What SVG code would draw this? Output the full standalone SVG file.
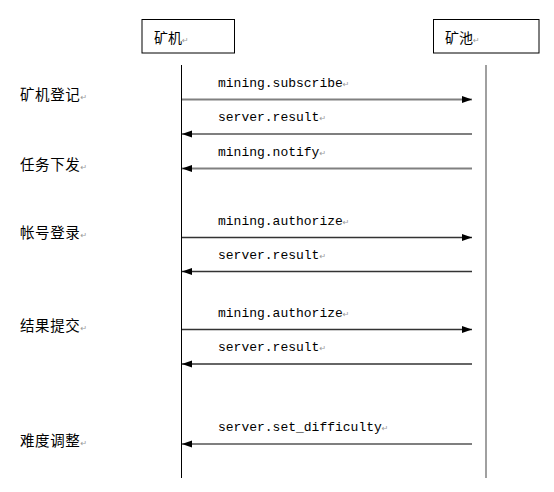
<svg xmlns="http://www.w3.org/2000/svg" width="554" height="492" viewBox="0 0 554 492">
<defs>
<marker id="ah" markerUnits="userSpaceOnUse" markerWidth="11" markerHeight="8" refX="10" refY="3.5" orient="auto">
<path d="M0,0 L10,3.5 L0,7 z" fill="#000"/>
</marker>
<style>
.box{fill:#fff;stroke:#000;stroke-width:1}
.cjk{font-family:"Liberation Sans","Noto Sans CJK SC",sans-serif;font-size:14px;fill:#000}
.side{font-family:"Liberation Sans","Noto Sans CJK SC",sans-serif;font-size:14.5px;letter-spacing:0.6px;fill:#000}
.msg{font-family:"Liberation Mono","DejaVu Sans Mono",monospace;font-size:13px;fill:#000}
.rm{font-family:"DejaVu Sans",sans-serif;font-size:8px;fill:#999}
.ln{fill:none;marker-end:url(#ah)}
.g{stroke:#808080;stroke-width:2}
.k{stroke:#000;stroke-width:1.2}
.d{stroke:#333;stroke-width:1.5}
</style>
</defs>
<rect width="554" height="492" fill="#fff"/>
<g id="miner">
<rect class="box" x="142" y="19.5" width="92.5" height="33.5"/>
<text class="cjk" x="154" y="43">矿机<tspan class="rm">↵</tspan></text>
</g>
<g id="pool">
<rect class="box" x="433.5" y="19.5" width="105.5" height="33.5"/>
<text class="cjk" x="445" y="43">矿池<tspan class="rm">↵</tspan></text>
</g>
<g id="lifelines">
<line x1="181.5" y1="65" x2="181.5" y2="478" stroke="#000" stroke-width="1"/>
<line x1="486" y1="65" x2="486" y2="478" stroke="#808080" stroke-width="1.5"/>
</g>
<g id="phases">
<text class="side" x="20" y="100">矿机登记<tspan class="rm">↵</tspan></text>
<text class="side" x="20" y="170">任务下发<tspan class="rm">↵</tspan></text>
<text class="side" x="20" y="238">帐号登录<tspan class="rm">↵</tspan></text>
<text class="side" x="20" y="331">结果提交<tspan class="rm">↵</tspan></text>
<text class="side" x="20" y="446">难度调整<tspan class="rm">↵</tspan></text>
</g>
<g id="connectors">
<line class="ln g" x1="182" y1="99.5" x2="472" y2="99.5"/>
<line class="ln k" x1="472" y1="134" x2="182" y2="134"/>
<line class="ln g" x1="472" y1="168.5" x2="182" y2="168.5"/>
<line class="ln d" x1="182" y1="237.5" x2="472" y2="237.5"/>
<line class="ln d" x1="472" y1="271.5" x2="182" y2="271.5"/>
<line class="ln d" x1="182" y1="329.5" x2="472" y2="329.5"/>
<line class="ln d" x1="472" y1="364" x2="182" y2="364"/>
<line class="ln k" x1="472" y1="444" x2="182" y2="444"/>
</g>
<g id="labels">
<text class="msg" x="218" y="87">mining.subscribe<tspan class="rm">↵</tspan></text>
<text class="msg" x="218" y="121">server.result<tspan class="rm">↵</tspan></text>
<text class="msg" x="218" y="156">mining.notify<tspan class="rm">↵</tspan></text>
<text class="msg" x="218" y="225">mining.authorize<tspan class="rm">↵</tspan></text>
<text class="msg" x="218" y="259">server.result<tspan class="rm">↵</tspan></text>
<text class="msg" x="218" y="317">mining.authorize<tspan class="rm">↵</tspan></text>
<text class="msg" x="218" y="351">server.result<tspan class="rm">↵</tspan></text>
<text class="msg" x="218" y="431">server.set_difficulty<tspan class="rm">↵</tspan></text>
</g>
</svg>
